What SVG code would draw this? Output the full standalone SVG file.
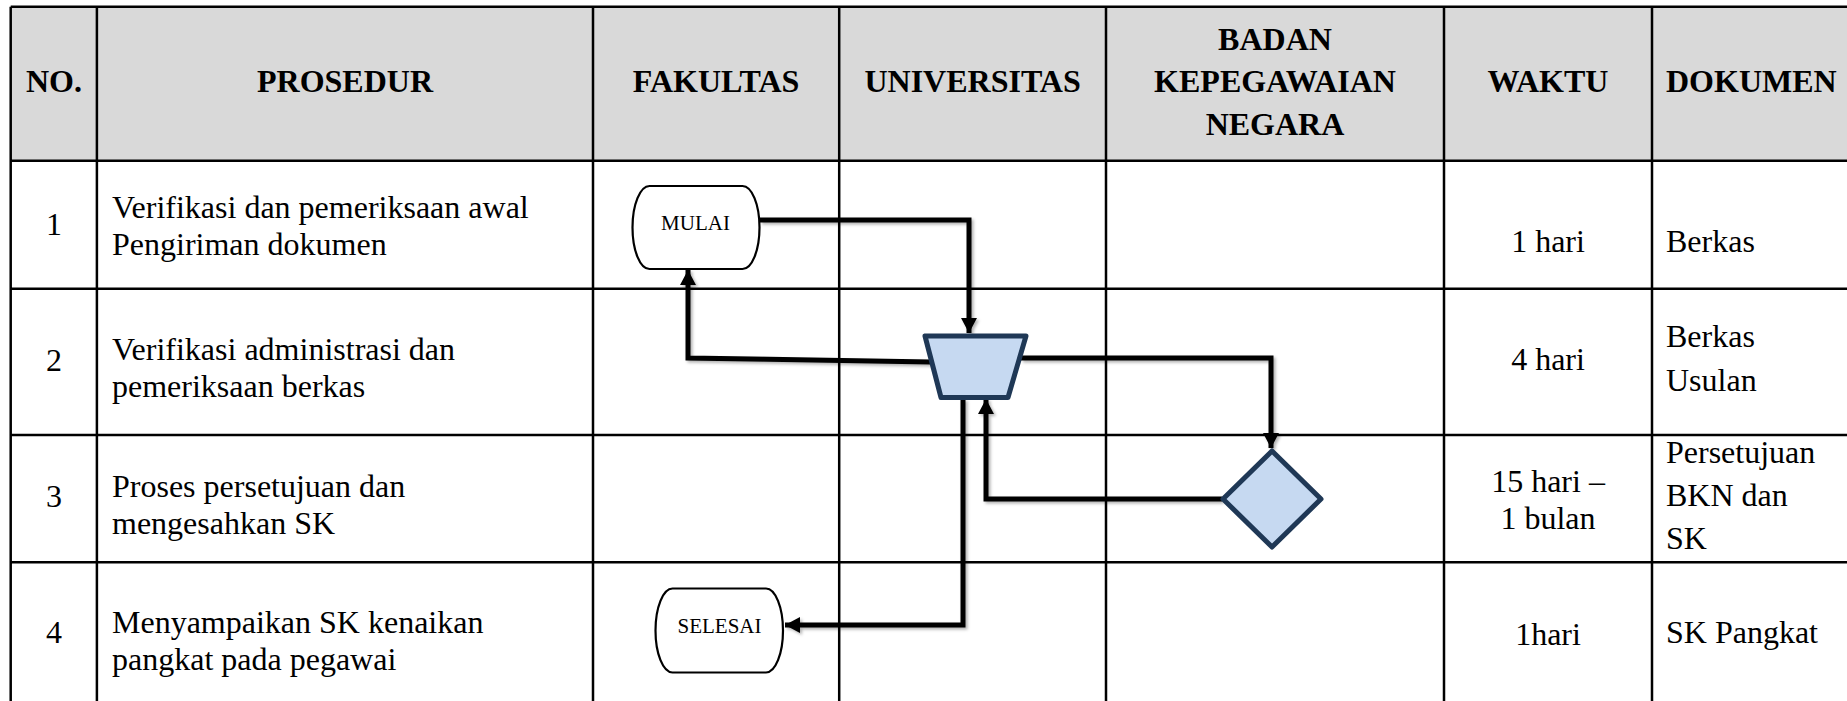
<svg xmlns="http://www.w3.org/2000/svg" width="1847" height="701" viewBox="0 0 1847 701">
<style>
.grid{stroke:#000;stroke-width:2.5;fill:none}
.hd{font-family:"Liberation Serif","Times New Roman",serif;font-weight:bold;font-size:32px;fill:#000}
.tx{font-family:"Liberation Serif","Times New Roman",serif;font-size:32px;fill:#000}
.c{text-anchor:middle}
.term{fill:#fff;stroke:#000;stroke-width:2.2}
.tl{font-family:"Liberation Serif","Times New Roman",serif;font-size:21px;fill:#000;text-anchor:middle}
.proc{fill:#C6D9F1;stroke:#1F3856;stroke-width:5;stroke-linejoin:round}
.conn{fill:none;stroke:#000;stroke-width:5;stroke-linejoin:miter}
</style>
<defs>
<marker id="arr" markerUnits="userSpaceOnUse" markerWidth="16" markerHeight="16" refX="15" refY="8" orient="auto">
<path d="M0,0 L15,8 L0,16 Z" fill="#000"/>
</marker>
<filter id="sh" x="-5%" y="-5%" width="110%" height="110%">
<feDropShadow dx="2" dy="2" stdDeviation="1.5" flood-color="#000" flood-opacity="0.3"/>
</filter>
</defs>
<rect width="1847" height="701" fill="#fff"/>
<g id="table">
<rect x="10.7" y="6.7" width="1845" height="154" fill="#D9D9D9"/>
<path class="grid" d="M10.7 6.7H1850M10.7 160.7H1850M10.7 288.7H1850M10.7 435H1850M10.7 562.3H1850M10.7 6.7V705M96.9 6.7V705M593 6.7V705M839.2 6.7V705M1106 6.7V705M1444 6.7V705M1652 6.7V705"/>
</g>
<g id="header">
<text class="hd c" x="54" y="92">NO.</text>
<text class="hd c" x="345" y="92">PROSEDUR</text>
<text class="hd c" x="716" y="92">FAKULTAS</text>
<text class="hd c" x="972.6" y="92">UNIVERSITAS</text>
<text class="hd c" x="1275" y="50">BADAN</text>
<text class="hd c" x="1275" y="92">KEPEGAWAIAN</text>
<text class="hd c" x="1275" y="135">NEGARA</text>
<text class="hd c" x="1548" y="92">WAKTU</text>
<text class="hd" x="1666" y="92">DOKUMEN</text>
</g>
<g id="rows">
<text class="tx c" x="54" y="235">1</text>
<text class="tx" x="112" y="217.5">Verifikasi dan pemeriksaan awal</text>
<text class="tx" x="112" y="254.5">Pengiriman dokumen</text>
<text class="tx c" x="1548" y="252">1 hari</text>
<text class="tx" x="1666" y="252">Berkas</text>
<text class="tx c" x="54" y="371">2</text>
<text class="tx" x="112" y="360">Verifikasi administrasi dan</text>
<text class="tx" x="112" y="397">pemeriksaan berkas</text>
<text class="tx c" x="1548" y="370">4 hari</text>
<text class="tx" x="1666" y="347">Berkas</text>
<text class="tx" x="1666" y="391">Usulan</text>
<text class="tx c" x="54" y="507">3</text>
<text class="tx" x="112" y="497">Proses persetujuan dan</text>
<text class="tx" x="112" y="534">mengesahkan SK</text>
<text class="tx c" x="1548" y="492">15 hari –</text>
<text class="tx c" x="1548" y="528.5">1 bulan</text>
<text class="tx" x="1666" y="463">Persetujuan</text>
<text class="tx" x="1666" y="506">BKN dan</text>
<text class="tx" x="1666" y="549">SK</text>
<text class="tx c" x="54" y="643">4</text>
<text class="tx" x="112" y="633">Menyampaikan SK kenaikan</text>
<text class="tx" x="112" y="670">pangkat pada pegawai</text>
<text class="tx c" x="1548" y="645">1hari</text>
<text class="tx" x="1666" y="643">SK Pangkat</text>
</g>
<g id="connectors" filter="url(#sh)">
<path class="conn" d="M760 220H969V333" marker-end="url(#arr)"/>
<path class="conn" d="M931 362L688 358V270" marker-end="url(#arr)"/>
<path class="conn" d="M1021 358H1271V448" marker-end="url(#arr)"/>
<path class="conn" d="M1222 499H986V399" marker-end="url(#arr)"/>
<path class="conn" d="M963 399V625H785" marker-end="url(#arr)"/>
</g>
<g id="mulai">
<rect class="term" x="632.5" y="186" width="127" height="83" rx="17" ry="41.5"/>
<text class="tl" x="695.5" y="230">MULAI</text>
</g>
<g id="verifikasi">
<polygon class="proc" points="925,336 1026,336 1008,397.5 941,397.5"/>
</g>
<g id="keputusan">
<polygon class="proc" points="1272,451 1321,499 1272,547 1223,499"/>
</g>
<g id="selesai">
<rect class="term" x="655.5" y="588.5" width="127.5" height="84" rx="17" ry="42"/>
<text class="tl" x="719.5" y="633">SELESAI</text>
</g>
</svg>
